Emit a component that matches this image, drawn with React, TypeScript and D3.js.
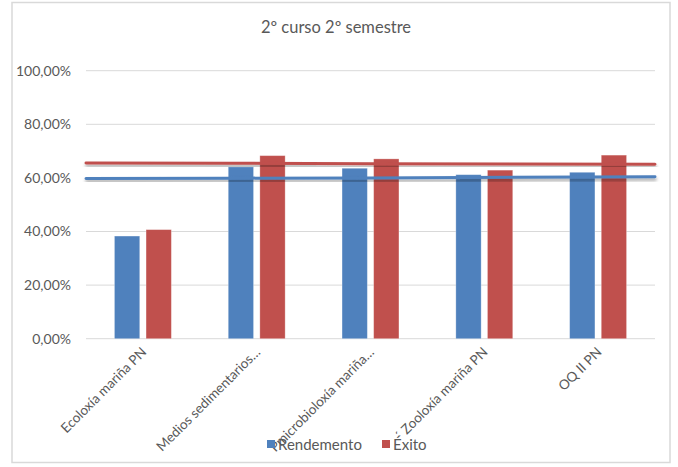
import React from "react";
import * as d3 from "d3";

const categories = [
  "Ecoloxía mariña PN",
  "Medios sedimentarios…",
  "Pmicrobioloxía mariña…",
  "´ Zooloxía mariña PN",
  "OQ II PN",
];
const seriesNames = ["Rendemento", "Éxito"];
const rendemento = [38.3, 64.1, 63.6, 61.2, 62.1];
const exito = [40.7, 68.3, 67.1, 62.9, 68.5];
const lineRendemento = [59.8, 59.9, 60.0, 60.2, 60.4];
const lineExito = [65.6, 65.5, 65.3, 65.2, 65.1];
const yTicks = [0, 20, 40, 60, 80, 100];
const title = "2º curso 2º semestre";

const W = 678;
const H = 467;
const colors = ["#4F81BD", "#C0504D"];
const font = "Lato, 'Open Sans', sans-serif";
const textColor = "#595959";

export default function App() {
  const left = 86;
  const right = 655;
  const top = 70.7;
  const bottom = 338.7;

  const y = d3.scaleLinear().domain([0, 100]).range([bottom, top]);
  const x0 = d3
    .scaleBand<string>()
    .domain(categories)
    .range([left, right])
    .paddingInner(0.5)
    .paddingOuter(0.25);
  const x1 = d3
    .scaleBand<string>()
    .domain(seriesNames)
    .range([0, x0.bandwidth()])
    .paddingInner(0.2);
  const xLine = d3.scalePoint<string>().domain(categories).range([left, right]).padding(0);
  const xCat = d3.scaleBand<string>().domain(categories).range([left, right]);

  const lineGen = d3
    .line<number>()
    .x((_, i) => xLine(categories[i]) as number)
    .y((d) => y(d));

  const series = [rendemento, exito];
  const fmt = (v: number) => v.toFixed(2).replace(".", ",") + "%";

  return (
    <svg
      width={W}
      height={H}
      style={{ position: "absolute", left: 0, top: 0, background: "#fff" }}
    >
      <defs>
        <filter id="shadow" x="-5%" y="-200%" width="110%" height="500%">
          <feDropShadow dx="0.5" dy="2.5" stdDeviation="1.6" floodColor="#000" floodOpacity="0.35" />
        </filter>
      </defs>
      <rect x={12} y={2.5} width={658} height={460} fill="#fff" stroke="#d9d9d9" strokeWidth={1.5} />
      <text
        x={336}
        y={33}
        textAnchor="middle"
        fontFamily={font}
        fontSize={16.5}
        fill={textColor}
      >
        {title}
      </text>
      {yTicks.map((t) => (
        <g key={t}>
          <line x1={left} x2={right} y1={y(t)} y2={y(t)} stroke="#d9d9d9" strokeWidth={1} />
          <text
            x={71}
            y={y(t)}
            dy="0.35em"
            textAnchor="end"
            fontFamily={font}
            fontSize={14}
            fill={textColor}
          >
            {fmt(t)}
          </text>
        </g>
      ))}
      {categories.map((c, ci) => (
        <g key={c} transform={`translate(${x0(c)},0)`}>
          {seriesNames.map((s, si) => (
            <rect
              key={s}
              x={x1(s)}
              y={y(series[si][ci])}
              width={x1.bandwidth()}
              height={bottom - y(series[si][ci])}
              fill={colors[si]}
              stroke="#ffffff"
              strokeOpacity={0.35}
              strokeWidth={0.8}
            />
          ))}
        </g>
      ))}
      {[lineRendemento, lineExito].map((vals, i) => (
        <path
          key={i}
          d={lineGen(vals) || ""}
          fill="none"
          stroke={colors[i]}
          strokeWidth={3}
          strokeLinecap="round"
          filter="url(#shadow)"
        />
      ))}
      {categories.map((c) => {
        const cx = (xCat(c) as number) + xCat.bandwidth() / 2 + 1;
        return (
          <text
            key={c}
            transform={`translate(${cx},${bottom + 11}) rotate(-45)`}
            textAnchor="end"
            dy="0.35em"
            fontFamily={font}
            fontSize={13.5}
            fill={textColor}
          >
            {c}
          </text>
        );
      })}
      {seriesNames.map((s, i) => {
        const lx = [267, 382][i];
        return (
          <g key={s}>
            <rect x={lx} y={440} width={8} height={8} fill={colors[i]} />
            <text x={lx + 11} y={450} fontFamily={font} fontSize={15} fill={textColor}>
              {s}
            </text>
          </g>
        );
      })}
    </svg>
  );
}
